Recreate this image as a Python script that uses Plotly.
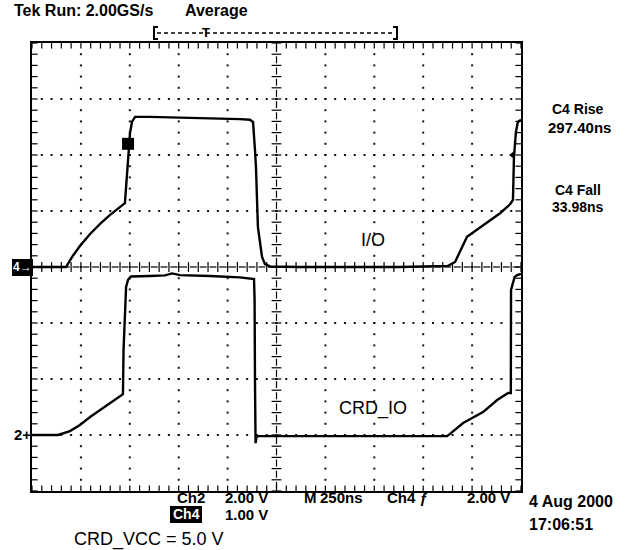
import numpy as np
import plotly.graph_objects as go

# ---- acquisition settings ----
NS_PER_DIV = 250          # horizontal: 250 ns/div, 10 divisions
CH4_V_PER_DIV = 1.0       # Ch4 (I/O) 1.00 V/div, ground at centre line
CH2_V_PER_DIV = 2.0       # Ch2 (CRD_IO) 2.00 V/div
CH2_GROUND_DIV = -3.0     # Ch2 ground marker three divisions below centre
TRIG_LEVEL_V = 2.00       # Ch4 rising-edge trigger level

# ---- Ch4 : I/O line (time in ns, volts) ----
io_t = [-1250, -1076, -1045, -1005, -953, -902, -851, -800, -775, -770, -759, -749,
        -739, -723, -647, -493, -340, -187, -136, -120, -110, -105, -95, -84, -74,
        -59, -33, 120, 376, 631, 877, 913, 974, 1040, 1091, 1143, 1194, 1209, 1214,
        1224, 1234, 1250]
io_v = [0.0, 0.0, 0.18, 0.375, 0.59, 0.77, 0.93, 1.07, 1.14, 1.38, 1.91, 2.39,
        2.59, 2.68, 2.68, 2.67, 2.66, 2.64, 2.63, 2.59, 2.09, 1.79, 0.71, 0.39, 0.18,
        0.05, 0.01, 0.0, 0.0, 0.0, 0.02, 0.09, 0.54, 0.71, 0.84, 0.96, 1.12, 1.20, 1.96,
        2.41, 2.59, 2.63]

# ---- Ch2 : CRD_IO line ----
crd_t = [-1250, -1117, -1056, -1005, -953, -902, -851, -810, -785, -782, -775, -769,
         -759, -744, -647, -570, -534, -493, -340, -187, -115, -112, -110, -107, -102,
         -95, 120, 631, 872, 887, 954, 1056, 1128, 1184, 1198, 1199, 1207, 1217, 1230,
         1250]
crd_v = [0.0, 0.0, 0.14, 0.36, 0.64, 0.89, 1.14, 1.32, 1.46, 3.04, 4.11, 5.29,
         5.54, 5.66, 5.68, 5.70, 5.77, 5.71, 5.68, 5.63, 5.57, 4.82, 1.96, -0.29, -0.07,
         -0.04, -0.04, -0.04, -0.04, 0.04, 0.43, 0.82, 1.25, 1.50, 1.50, 5.18, 5.43, 5.64,
         5.71, 5.75]

# cursor square on the Ch4 rising edge
cursor_t = [-759]
cursor_v = [2.20]
# trigger-level indicator near the right edge
trig_marker_t = [1209]

# ---- page geometry (pixels) ----
PW, PH = 626, 550
L, T, W, H = 32, 43, 489, 448

def px(x):
    return (x - L) / W

def py(y):
    return (T + H - y) / H

FONT = "Liberation Sans"

io_y = [v / CH4_V_PER_DIV for v in io_v]
crd_y = [v / CH2_V_PER_DIV + CH2_GROUND_DIV for v in crd_v]
cursor_y = [v / CH4_V_PER_DIV for v in cursor_v]
trig_y = [TRIG_LEVEL_V / CH4_V_PER_DIV]

fig = go.Figure()

# ---- graticule ----
half_t = 5 * NS_PER_DIV
xs_minor = np.linspace(-half_t, half_t, 51)
ys_minor = np.linspace(-4, 4, 41)
major_x = [v for v in np.linspace(-half_t, half_t, 11)[1:-1] if abs(v) > 1e-9]
major_y = [v for v in range(-3, 4) if v != 0]

dot_x, dot_y = [], []
for gx in major_x:
    for yy in ys_minor[1:-1]:
        dot_x.append(gx); dot_y.append(yy)
for gy in major_y:
    for xx in xs_minor[1:-1]:
        dot_x.append(xx); dot_y.append(gy)
fig.add_trace(go.Scatter(x=dot_x, y=dot_y, mode="markers", hoverinfo="skip",
                         marker=dict(symbol="square", size=2, color="#111", line=dict(width=0))))

def tick_trace(xv, yv, symbol, size, width=1.2):
    return go.Scatter(x=list(xv), y=list(yv), mode="markers", hoverinfo="skip",
                      marker=dict(symbol=symbol, size=size, color="black",
                                  line=dict(width=width, color="black")))

# centre cross-hair: ticks at every minor division with short dashes between
mid_x = (xs_minor[:-1] + xs_minor[1:]) / 2
mid_y = (ys_minor[:-1] + ys_minor[1:]) / 2
fig.add_trace(tick_trace(xs_minor, np.zeros_like(xs_minor), "line-ns", 7))
fig.add_trace(tick_trace(mid_x, np.zeros_like(mid_x), "line-ew", 5))
fig.add_trace(tick_trace(np.zeros_like(ys_minor), ys_minor, "line-ew", 7))
fig.add_trace(tick_trace(np.zeros_like(mid_y), mid_y, "line-ns", 5))

# border ticks (half of each marker is clipped by the plot area)
fig.add_trace(tick_trace(xs_minor, np.full_like(xs_minor, 4.0), "line-ns", 8))
fig.add_trace(tick_trace(xs_minor, np.full_like(xs_minor, -4.0), "line-ns", 8))
fig.add_trace(tick_trace(np.full_like(ys_minor, -half_t), ys_minor, "line-ew", 8))
fig.add_trace(tick_trace(np.full_like(ys_minor, half_t), ys_minor, "line-ew", 8))

# ---- waveforms ----
fig.add_trace(go.Scatter(x=io_t, y=io_y, mode="lines", name="I/O",
                         line=dict(color="black", width=2.4)))
fig.add_trace(go.Scatter(x=crd_t, y=crd_y, mode="lines", name="CRD_IO",
                         line=dict(color="black", width=2.4)))
fig.add_trace(go.Scatter(x=cursor_t, y=cursor_y, mode="markers", hoverinfo="skip",
                         marker=dict(symbol="square", size=12, color="black")))
fig.add_trace(go.Scatter(x=trig_marker_t, y=trig_y, mode="markers", hoverinfo="skip",
                         marker=dict(symbol="triangle-left", size=8, color="black")))

# ---- text ----
def label(text, x, y, size, anchor="left", bold=True, color="black"):
    return dict(text=text, x=px(x), y=py(y), xref="paper", yref="paper",
                xanchor=anchor, yanchor="middle", showarrow=False,
                font=dict(family=FONT, size=size, color=color,
                          weight="bold" if bold else "normal"))

annotations = [
    label("Tek Run: 2.00GS/s", 12, 10, 16),
    label("Average", 183, 10, 16),
    label("T", 200, 33, 13),
    label("C4 Rise", 578, 109, 14, "center"),
    label("297.40ns", 579, 127, 15, "center"),
    label("C4 Fall", 578, 190, 14, "center"),
    label("33.98ns", 578, 207, 14, "center"),
    label("I/O", 373, 240, 18, "center", bold=False),
    label("CRD_IO", 373, 408, 18, "center", bold=False),
    label("4→", 22, 267, 12, "center", color="white"),
    label("2+", 22, 434, 15, "center"),
    label("Ch2", 175, 497, 15),
    label("2.00 V", 223, 497, 15),
    label("M", 302, 497, 15),
    label("250ns", 318, 497, 15),
    label("Ch4 ƒ", 385, 497, 15),
    label("2.00 V", 465, 497, 15),
    label("Ch4", 186, 514, 14, "center", color="white"),
    label("1.00 V", 223, 514, 15),
    label("4 Aug 2000", 527, 501, 16),
    label("17:06:51", 527, 524, 16),
    label("CRD_VCC = 5.0 V", 72, 539, 18, bold=False),
]

shapes = [
    # selected-channel boxes
    dict(type="rect", xref="paper", yref="paper", x0=px(12), x1=px(33), y0=py(276), y1=py(259),
         fillcolor="black", line=dict(width=0), layer="below"),
    dict(type="rect", xref="paper", yref="paper", x0=px(170), x1=px(202), y0=py(523), y1=py(506),
         fillcolor="black", line=dict(width=0), layer="below"),
    # record-window bracket
    dict(type="path", xref="paper", yref="paper",
         path=f"M {px(158)},{py(27)} L {px(154)},{py(27)} L {px(154)},{py(39)} L {px(158)},{py(39)}",
         line=dict(color="black", width=2)),
    dict(type="path", xref="paper", yref="paper",
         path=f"M {px(393)},{py(27)} L {px(397)},{py(27)} L {px(397)},{py(39)} L {px(393)},{py(39)}",
         line=dict(color="black", width=2)),
    dict(type="line", xref="paper", yref="paper", x0=px(157), x1=px(394), y0=py(33), y1=py(33),
         line=dict(color="black", width=1.5, dash="4px,3px")),
]

fig.update_layout(
    width=PW, height=PH, autosize=False,
    margin=dict(l=L, r=PW - L - W, t=T, b=PH - T - H, pad=0),
    paper_bgcolor="white", plot_bgcolor="white",
    showlegend=False,
    annotations=annotations,
    shapes=shapes,
    xaxis=dict(range=[-half_t, half_t], showgrid=False, zeroline=False,
               showticklabels=False, ticks="", showline=True, linecolor="black",
               linewidth=2, mirror=True, fixedrange=True),
    yaxis=dict(range=[-4, 4], showgrid=False, zeroline=False,
               showticklabels=False, ticks="", showline=True, linecolor="black",
               linewidth=2, mirror=True, fixedrange=True),
)

fig.write_html("out.html")
